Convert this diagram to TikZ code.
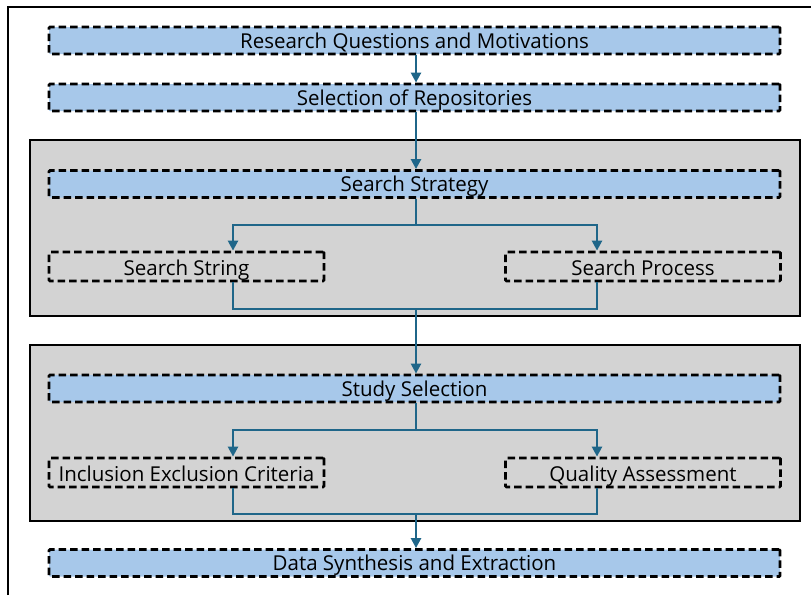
\documentclass[tikz,border=0pt]{standalone}
\usepackage{fontspec}
\setmainfont{Open Sans}
\usetikzlibrary{arrows.meta}
\definecolor{boxblue}{HTML}{A7C8EA}
\definecolor{panelgray}{HTML}{D3D3D3}
\definecolor{conncol}{HTML}{1F6689}
\tikzset{
  x=1pt,y=1pt,
  bluebox/.style={draw=black, line width=2.8pt, dash pattern=on 7.5pt off 4pt, fill=boxblue, rounded corners=1pt,
    minimum width=731pt, minimum height=27pt, inner sep=0pt, text height=15pt, text depth=0pt,
    font=\fontsize{20.5}{22}\selectfont},
  subbox/.style={draw=black, line width=2.8pt, dash pattern=on 7.5pt off 4pt, rounded corners=1pt,
    minimum width=275pt, minimum height=29pt, inner sep=0pt, text height=17pt, text depth=0pt,
    font=\fontsize{20.5}{22}\selectfont},
  panel/.style={draw=black, line width=2.6pt, fill=panelgray, minimum width=770pt, minimum height=176pt, inner sep=0pt},
  conn/.style={draw=conncol, line width=2.4pt},
  arr/.style={conn, -{Triangle[length=10pt,width=10pt]}},
}
\begin{document}
\begin{tikzpicture}
\useasboundingbox (0,0) rectangle (811,-595);
\draw[line width=2.2pt] (8,-595) -- (8,-7) -- (811,-7);
\node[panel] (p1) at (415,-228) {};
\node[panel] (p2) at (415,-433) {};
\node[bluebox] (rq) at (414.5,-40.5) {Research Questions and Motivations};
\node[bluebox] (rep) at (414.5,-97.5) {Selection of Repositories};
\node[bluebox] (ss) at (414.5,-184) {Search Strategy};
\node[subbox] (str) at (186.5,-266.5) {Search String};
\node[subbox] (proc) at (643,-266.5) {Search Process};
\node[bluebox] (sel) at (414.5,-388.5) {Study Selection};
\node[subbox] (inc) at (186.5,-472.5) {Inclusion Exclusion Criteria};
\node[subbox] (qa) at (643,-472.5) {Quality Assessment};
\node[bluebox] (ds) at (414.5,-563) {Data Synthesis and Extraction};
\coordinate (b1) at (416,-225);
\coordinate (m1) at (416,-309);
\coordinate (b2) at (416,-430);
\coordinate (m2) at (416,-514);
\draw[arr] (rq.south -| b1) -- (rep.north -| b1);
\draw[arr] (rep.south -| b1) -- (ss.north -| b1);
\draw[conn] (ss.south -| b1) -- (b1);
\draw[arr] (b1) -| (str.north -| 233,0);
\draw[arr] (b1) -| (proc.north -| 597,0);
\draw[conn] (str.south -| 233,0) |- (m1) -| (proc.south -| 597,0);
\draw[arr] (m1) -- (sel.north -| m1);
\draw[conn] (sel.south -| b2) -- (b2);
\draw[arr] (b2) -| (inc.north -| 233,0);
\draw[arr] (b2) -| (qa.north -| 597,0);
\draw[conn] (inc.south -| 233,0) |- (m2) -| (qa.south -| 597,0);
\draw[arr] (m2) -- (ds.north -| m2);
\end{tikzpicture}
\end{document}
